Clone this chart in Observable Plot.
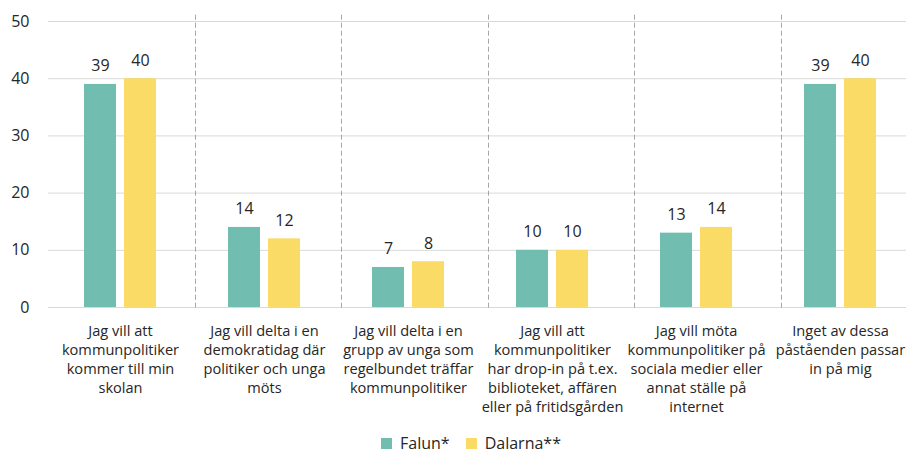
<!DOCTYPE html>
<html>
<head>
<meta charset="utf-8">
<script src="https://cdn.jsdelivr.net/npm/d3@7"></script>
<script src="https://cdn.jsdelivr.net/npm/@observablehq/plot@0.6"></script>
<style>
  body { margin: 0; background: #fff; font-family: "Open Sans", sans-serif; }
  #chart { height: 432px; }
  #legend { display: flex; justify-content: center; padding-left: 52px; margin-top: 2px; height: 18px; }
</style>
</head>
<body>
<div id="chart"></div>
<div id="legend"></div>
<script>
const categories = [
  "Jag vill att\nkommunpolitiker\nkommer till min\nskolan",
  "Jag vill delta i en\ndemokratidag där\npolitiker och unga\nmöts",
  "Jag vill delta i en\ngrupp av unga som\nregelbundet träffar\nkommunpolitiker",
  "Jag vill att\nkommunpolitiker\nhar drop-in på t.ex.\nbiblioteket, affären\neller på fritidsgården",
  "Jag vill möta\nkommunpolitiker på\nsociala medier eller\nannat ställe på\ninternet",
  "Inget av dessa\npåståenden passar\nin på mig"
];
const series = ["Falun*", "Dalarna**"];
const falun = [39, 14, 7, 10, 13, 39];
const dalarna = [40, 12, 8, 10, 14, 40];
const yTicks = [0, 10, 20, 30, 40, 50];
const colors = ["#71BEB0", "#F9DB66"];

const rows = [];
categories.forEach((c, i) => {
  rows.push({category: c, series: series[0], value: falun[i]});
  rows.push({category: c, series: series[1], value: dalarna[i]});
});

const textColor = "#262626";

const chart = Plot.plot({
  width: 906,
  height: 432,
  marginLeft: 48,
  marginRight: 0,
  marginTop: 21,
  marginBottom: 125,
  style: {fontFamily: "Open Sans, sans-serif", color: textColor, background: "#fff", display: "block"},
  fx: {domain: categories, padding: 0, axis: null, range: [47, 913]},
  x: {domain: series, paddingInner: 0.195, paddingOuter: 0.858, axis: null},
  y: {domain: [0, 50], ticks: yTicks, axis: null},
  color: {domain: series, range: colors},
  marks: [
    Plot.gridY(yTicks, {stroke: "#d9d9d9", strokeOpacity: 1, strokeWidth: 1}),
    Plot.axisY(yTicks, {tickSize: 0, tickPadding: 19, fontSize: 16, fill: textColor, label: null, facetAnchor: "left", anchor: "left"}),
    Plot.barY(rows, {fx: "category", x: "series", y: "value", fill: "series"}),
    Plot.text(rows, {fx: "category", x: "series", y: "value", text: d => String(d.value),
      lineAnchor: "bottom", dy: -13, fontSize: 16, fill: textColor}),
    Plot.text(categories, {fx: d => d, text: d => d, frameAnchor: "bottom", lineAnchor: "top",
      dy: 14.5, fontSize: 14.6, lineHeight: 1.31, fill: textColor})
  ]
});
document.getElementById("chart").appendChild(chart);

// dashed group separators: category boundaries on the separator band scale, y from the plot's y scale
const ys = chart.scale("y");
const sep = d3.scaleBand().domain(categories).range([48, 927]);
const svg = d3.select(chart);
categories.slice(1).forEach(c => {
  const x = Math.round(sep(c)) + 0.5;
  svg.append("line")
    .attr("x1", x).attr("x2", x)
    .attr("y1", ys.apply(51.1)).attr("y2", ys.apply(-0.5))
    .attr("stroke", "#a6a6a6").attr("stroke-width", 1)
    .attr("stroke-dasharray", "5,3");
});

const legend = Plot.legend({
  color: {domain: series, range: colors},
  swatchSize: 11,
  style: {fontSize: "16px", fontFamily: "Open Sans, sans-serif", color: textColor,
    minHeight: "0", lineHeight: "18px", margin: "0"}
});
document.getElementById("legend").appendChild(legend);
</script>
</body>
</html>
